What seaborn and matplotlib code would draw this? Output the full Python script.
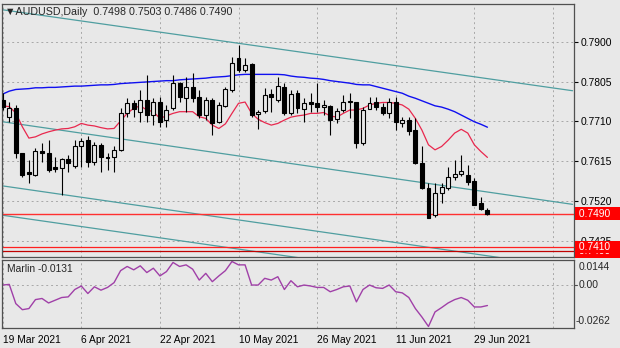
import matplotlib
matplotlib.use("Agg")
import matplotlib.pyplot as plt
import matplotlib.transforms as mtransforms
import numpy as np
import pandas as pd
import seaborn as sns

# ---------------- data ----------------
date_labels = ["19 Mar 2021", "6 Apr 2021", "22 Apr 2021", "10 May 2021",
               "26 May 2021", "11 Jun 2021", "29 Jun 2021"]
date_bars = [0, 12, 24, 36, 48, 60, 72]
grid_bars = [0, 12, 24, 36, 48, 60, 72, 84]

opens = [0.7761, 0.7721, 0.7742, 0.7634, 0.7588, 0.7582, 0.7640, 0.7634, 0.7600, 0.7598,
         0.7619, 0.7603, 0.7651, 0.7665, 0.7614, 0.7654, 0.7624, 0.7624, 0.7642, 0.7729,
         0.7754, 0.7733, 0.7761, 0.7725, 0.7757, 0.7713, 0.7741, 0.7801, 0.7765, 0.7793,
         0.7769, 0.7725, 0.7761, 0.7709, 0.7747, 0.7785, 0.7860, 0.7832, 0.7847, 0.7727,
         0.7735, 0.7775, 0.7761, 0.7793, 0.7729, 0.7778, 0.7739, 0.7757, 0.7753, 0.7744,
         0.7747, 0.7715, 0.7737, 0.7757, 0.7757, 0.7658, 0.7739, 0.7757, 0.7743, 0.7729,
         0.7757, 0.7707, 0.7713, 0.7690, 0.7610, 0.7550, 0.7487, 0.7538, 0.7550, 0.7577,
         0.7584, 0.7582, 0.7568, 0.7515, 0.7498]
highs = [0.7777, 0.7757, 0.7749, 0.7635, 0.7618, 0.7646, 0.7658, 0.7665, 0.7626, 0.7622,
         0.7630, 0.7665, 0.7670, 0.7675, 0.7661, 0.7658, 0.7634, 0.7650, 0.7741, 0.7765,
         0.7761, 0.7785, 0.7821, 0.7765, 0.7769, 0.7749, 0.7821, 0.7805, 0.7816, 0.7825,
         0.7785, 0.7769, 0.7765, 0.7757, 0.7793, 0.7864, 0.7892, 0.7860, 0.7850, 0.7737,
         0.7789, 0.7786, 0.7816, 0.7801, 0.7785, 0.7785, 0.7765, 0.7778, 0.7801, 0.7761,
         0.7749, 0.7741, 0.7773, 0.7778, 0.7757, 0.7745, 0.7767, 0.7767, 0.7753, 0.7765,
         0.7769, 0.7721, 0.7721, 0.7717, 0.7650, 0.7562, 0.7562, 0.7562, 0.7602, 0.7618,
         0.7630, 0.7606, 0.7574, 0.7530, 0.7503]
lows = [0.7737, 0.7709, 0.7622, 0.7578, 0.7562, 0.7580, 0.7614, 0.7590, 0.7590, 0.7534,
        0.7590, 0.7598, 0.7602, 0.7602, 0.7606, 0.7590, 0.7594, 0.7590, 0.7640, 0.7721,
        0.7721, 0.7709, 0.7709, 0.7701, 0.7697, 0.7697, 0.7737, 0.7757, 0.7733, 0.7757,
        0.7717, 0.7713, 0.7677, 0.7705, 0.7745, 0.7781, 0.7828, 0.7828, 0.7721, 0.7691,
        0.7731, 0.7733, 0.7757, 0.7725, 0.7725, 0.7729, 0.7709, 0.7733, 0.7733, 0.7725,
        0.7677, 0.7705, 0.7733, 0.7717, 0.7646, 0.7654, 0.7739, 0.7737, 0.7725, 0.7717,
        0.7689, 0.7696, 0.7677, 0.7608, 0.7549, 0.7479, 0.7483, 0.7515, 0.7546, 0.7570,
        0.7580, 0.7558, 0.7510, 0.7499, 0.7486]
closes = [0.7745, 0.7741, 0.7634, 0.7582, 0.7584, 0.7640, 0.7635, 0.7594, 0.7596, 0.7619,
          0.7611, 0.7651, 0.7663, 0.7614, 0.7654, 0.7626, 0.7622, 0.7642, 0.7729, 0.7753,
          0.7739, 0.7761, 0.7725, 0.7757, 0.7709, 0.7737, 0.7801, 0.7769, 0.7793, 0.7765,
          0.7725, 0.7761, 0.7705, 0.7749, 0.7786, 0.7848, 0.7832, 0.7844, 0.7725, 0.7733,
          0.7773, 0.7767, 0.7794, 0.7729, 0.7775, 0.7741, 0.7754, 0.7751, 0.7744, 0.7749,
          0.7712, 0.7735, 0.7757, 0.7759, 0.7658, 0.7737, 0.7753, 0.7744, 0.7731, 0.7757,
          0.7709, 0.7713, 0.7688, 0.7610, 0.7550, 0.7479, 0.7538, 0.7554, 0.7578, 0.7584,
          0.7592, 0.7566, 0.7510, 0.7500, 0.7490]

ma_slow = [0.7775, 0.7782, 0.7786, 0.7787, 0.7788, 0.7790, 0.7790, 0.7791, 0.7791, 0.7792,
           0.7793, 0.7794, 0.7794, 0.7795, 0.7796, 0.7797, 0.7797, 0.7798, 0.7800, 0.7801,
           0.7802, 0.7803, 0.7804, 0.7805, 0.7806, 0.7807, 0.7807, 0.7809, 0.7810, 0.7811,
           0.7812, 0.7813, 0.7815, 0.7816, 0.7817, 0.7819, 0.7821, 0.7822, 0.7822, 0.7822,
           0.7822, 0.7822, 0.7822, 0.7821, 0.7818, 0.7816, 0.7815, 0.7813, 0.7812, 0.7810,
           0.7807, 0.7805, 0.7803, 0.7801, 0.7798, 0.7797, 0.7797, 0.7793, 0.7789, 0.7785,
           0.7781, 0.7777, 0.7770, 0.7765, 0.7759, 0.7753, 0.7747, 0.7744, 0.7739, 0.7733,
           0.7725, 0.7717, 0.7709, 0.7703, 0.7696]
ma_fast = [0.7747, 0.7745, 0.7730, 0.7697, 0.7670, 0.7673, 0.7680, 0.7685, 0.7689, 0.7692,
           0.7693, 0.7697, 0.7705, 0.7701, 0.7699, 0.7695, 0.7692, 0.7693, 0.7711, 0.7729,
           0.7741, 0.7747, 0.7737, 0.7733, 0.7717, 0.7723, 0.7729, 0.7733, 0.7733, 0.7733,
           0.7721, 0.7717, 0.7701, 0.7693, 0.7704, 0.7729, 0.7753, 0.7756, 0.7729, 0.7715,
           0.7707, 0.7701, 0.7705, 0.7713, 0.7720, 0.7723, 0.7725, 0.7729, 0.7729, 0.7731,
           0.7723, 0.7720, 0.7729, 0.7737, 0.7737, 0.7741, 0.7749, 0.7753, 0.7755, 0.7755,
           0.7753, 0.7749, 0.7739, 0.7717, 0.7689, 0.7654, 0.7642, 0.7650, 0.7665, 0.7682,
           0.7691, 0.7682, 0.7654, 0.7638, 0.7624]

marlin = [-0.0003, 0.0001, -0.0119, -0.0157, -0.0150, -0.0094, -0.0087, -0.0115, -0.0098, -0.0081,
          -0.0077, -0.0031, -0.0009, -0.0056, -0.0014, -0.0035, -0.0018, 0.0012, 0.0087, 0.0113,
          0.0092, 0.0117, 0.0075, 0.0102, 0.0054, 0.0081, 0.0138, 0.0113, 0.0123, 0.0096,
          0.0028, 0.0070, 0.0018, 0.0054, 0.0087, 0.0144, 0.0123, 0.0123, -0.0003, -0.0003,
          0.0039, 0.0028, 0.0049, -0.0031, 0.0024, -0.0014, -0.0003, -0.0009, -0.0018, -0.0018,
          -0.0045, -0.0031, -0.0014, -0.0009, -0.0108, -0.0031, -0.0003, -0.0020, -0.0024, -0.0003,
          -0.0045, -0.0052, -0.0081, -0.0150, -0.0203, -0.0262, -0.0171, -0.0144, -0.0115, -0.0094,
          -0.0081, -0.0098, -0.0140, -0.0140, -0.0131]

price_ticks = [0.7900, 0.7805, 0.7710, 0.7615, 0.7520, 0.7425]
price_tick_labels = ["0.7900", "0.7805", "0.7710", "0.7615", "0.7520", "0.7425"]
level_prices = [0.7400, 0.7410, 0.7490]
level_labels = ["0.7400", "0.7410", "0.7490"]
marlin_levels = [0.0144, 0.0, -0.0262]
marlin_level_labels = ["0.0144", "0.00", "-0.0262"]

channel_bars = [0, 87]
channel_upper = [0.7976, 0.7783]
channel_middle = [0.7709, 0.7512]
channel_lower = [0.7556, 0.7360]
channel_lowest = [0.7486, 0.7291]

title_text = "\u25bcAUDUSD,Daily  0.7498 0.7503 0.7486 0.7490"
marlin_title = "Marlin -0.0131"

# ---------------- style ----------------
BG = "#e8e8e8"
FRAME = "#505050"
GRID = "#a8a8a8"
sns.set_theme(style="white", rc={"figure.facecolor": BG, "axes.facecolor": BG,
                                  "axes.edgecolor": FRAME, "axes.linewidth": 0.9})
plt.rcParams["font.family"] = ["Liberation Sans", "DejaVu Sans"]
FS = 7.4

fig = plt.figure(figsize=(6.2, 3.48), dpi=100)
W, H = 620.0, 348.0
L, R = 2.0, 573.5
ax = fig.add_axes([L / W, 1 - 256.5 / H, (R - L) / W, 252.5 / H])
ax2 = fig.add_axes([L / W, 1 - 328 / H, (R - L) / W, 68.5 / H])

xlim = (-0.107, 87.14)
for a in (ax, ax2):
    a.set_xlim(*xlim)
    for s in a.spines.values():
        s.set_color(FRAME)
        s.set_linewidth(0.9)
ax.set_ylim(0.738763, 0.798985)
ax2.set_ylim(-0.02714, 0.01565)

grid_kw = dict(color=GRID, lw=0.7, ls=(0, (2, 3)), zorder=0)
for b in grid_bars:
    ax.axvline(b, **grid_kw)
    ax2.axvline(b, **grid_kw)
for p in price_ticks:
    ax.axhline(p, **grid_kw)
ax2.axhline(0.0, **grid_kw)

df = pd.DataFrame({"bar": np.arange(len(opens)), "open": opens, "high": highs,
                   "low": lows, "close": closes, "ma_slow": ma_slow,
                   "ma_fast": ma_fast, "marlin": marlin})

# channel lines
for ch in (channel_upper, channel_middle, channel_lower, channel_lowest):
    ax.plot(channel_bars, ch, color="#4f9ea0", lw=0.9, zorder=1)

# horizontal levels
ax.axhline(level_prices[0], color="#c00000", lw=0.9, zorder=1)
ax.axhline(level_prices[1], color="#ff2020", lw=0.9, zorder=1)
ax.axhline(level_prices[2], color="#ff3030", lw=1.0, zorder=1)

# candles
up = df["close"] >= df["open"]
ax.vlines(df["bar"], df["low"], df["high"], color="black", lw=0.8, zorder=3)
body_lo = np.minimum(df["open"], df["close"])
body_h = np.maximum(np.abs(df["close"] - df["open"]), 0.00004)
ax.bar(df["bar"][up], body_h[up], bottom=body_lo[up], width=0.6,
       facecolor=BG, edgecolor="black", linewidth=0.8, zorder=4)
ax.bar(df["bar"][~up], body_h[~up], bottom=body_lo[~up], width=0.6,
       facecolor="black", edgecolor="black", linewidth=0.8, zorder=4)

# moving averages
sns.lineplot(data=df, x="bar", y="ma_slow", ax=ax, color="#1010f0", lw=1.0, zorder=2)
sns.lineplot(data=df, x="bar", y="ma_fast", ax=ax, color="#e8284e", lw=0.9, zorder=2)

# marlin
sns.lineplot(data=df, x="bar", y="marlin", ax=ax2, color="#a040a8", lw=1.0, zorder=2)

for a in (ax, ax2):
    a.set_xlabel("")
    a.set_ylabel("")

# axes ticks
ax.yaxis.tick_right()
ax.set_yticks(price_ticks)
ax.set_yticklabels(price_tick_labels)
ax.tick_params(axis="y", direction="out", length=3, width=0.8, pad=2,
               labelsize=FS, colors="black")
ax.tick_params(axis="x", bottom=False, labelbottom=False)

ax2.set_yticks([])
ax2.set_xticks(date_bars)
ax2.set_xticklabels(date_labels)
ax2.tick_params(axis="x", direction="out", length=3, width=0.8, pad=2,
                labelsize=FS, colors="black")
for lab in ax2.get_xticklabels():
    lab.set_horizontalalignment("left")

# level price boxes
trans = mtransforms.blended_transform_factory(ax.transAxes, ax.transData)
for p, t in zip(level_prices, level_labels):
    ax.text(1.004, p, " " + t + "   ", transform=trans, ha="left", va="center",
            fontsize=FS, color="white", clip_on=False, zorder=10,
            bbox=dict(boxstyle="square,pad=0.12", fc="#ff0000", ec="none"))

# marlin labels
trans2 = mtransforms.blended_transform_factory(ax2.transAxes, ax2.transData)
ax2.text(1.009, marlin_levels[0], marlin_level_labels[0], transform=trans2,
         ha="left", va="top", fontsize=FS, clip_on=False)
ax2.text(1.009, marlin_levels[1], marlin_level_labels[1], transform=trans2,
         ha="left", va="center", fontsize=FS, clip_on=False)
ax2.text(1.003, marlin_levels[2], marlin_level_labels[2], transform=trans2,
         ha="left", va="bottom", fontsize=FS, clip_on=False)
ax2.plot([1.0, 1.006], [0.0, 0.0], transform=trans2, color=FRAME, lw=0.8, clip_on=False)

# titles
fig.text(5 / W, 1 - 12 / H, title_text, ha="left", va="center", fontsize=FS + 0.3)
ax2.text(0.008, 0.86, marlin_title, transform=ax2.transAxes, ha="left", va="center",
         fontsize=FS)

fig.savefig("out.png", dpi=100, facecolor=BG)
